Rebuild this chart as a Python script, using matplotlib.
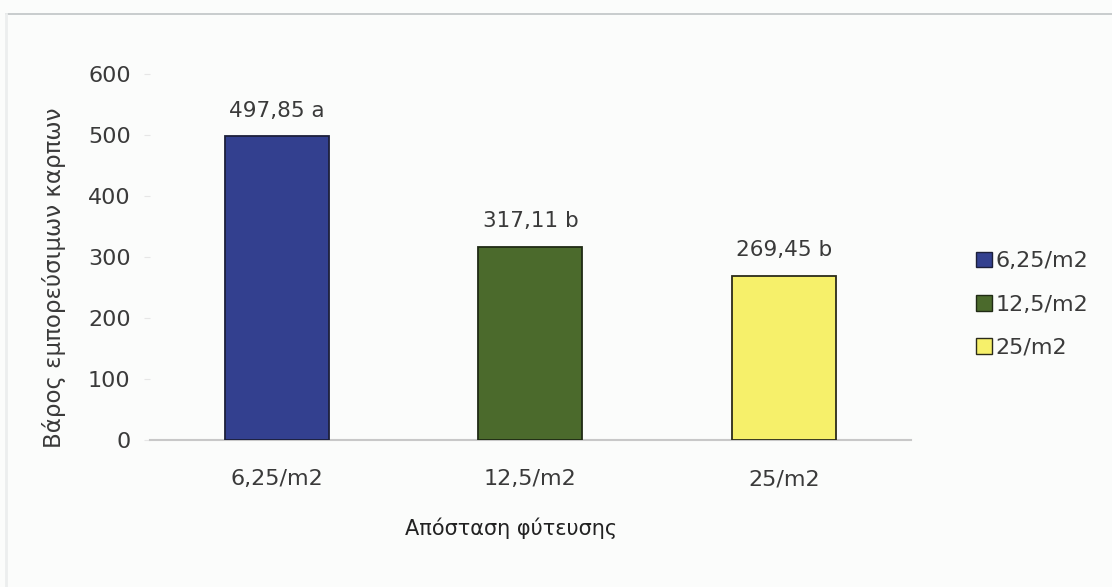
import matplotlib
matplotlib.use("Agg")
import matplotlib.pyplot as plt
from matplotlib.patches import Patch
from matplotlib.lines import Line2D

# Data
categories = ["6,25/m2", "12,5/m2", "25/m2"]
values = [497.85, 317.11, 269.45]
letters = ["a", "b", "b"]
value_labels = ["497,85", "317,11", "269,45"]
colors = ["#33408f", "#4b6a2c", "#f6f06a"]
edge_colors = ["#1c1f3a", "#1f2a14", "#2b2b1a"]
yticks = [0, 100, 200, 300, 400, 500, 600]

bg = "#fbfcfb"
text_col = "#3a3a3a"
plt.rcParams["font.family"] = ["DejaVu Sans"]

fig = plt.figure(figsize=(11.12, 5.87), dpi=100, facecolor=bg)
ax = fig.add_axes([0.135, 0.2504, 0.684, 0.6236], facecolor=bg)

x = list(range(len(categories)))
ax.bar(x, values, width=0.41, color=colors, edgecolor=edge_colors,
       linewidth=1.3, zorder=3)

for xi, v, lab, let in zip(x, values, value_labels, letters):
    ax.annotate(f"{lab} {let}", (xi, v), xytext=(0, 11), textcoords="offset points",
                ha="center", va="bottom", fontsize=15.5, color=text_col)

ax.set_xlim(-0.5, 2.5)
ax.set_ylim(0, 600)
ax.set_yticks(yticks)
ax.set_xticks(x)
ax.set_xticklabels(categories)
ax.tick_params(axis="x", length=0, pad=21, labelsize=16, labelcolor=text_col)
ax.tick_params(axis="y", length=4, width=0.8, color="#e6e6e6", pad=10,
               labelsize=16, labelcolor=text_col)

for side in ["top", "right", "left"]:
    ax.spines[side].set_visible(False)
ax.spines["bottom"].set_color("#c8c8c8")
ax.spines["bottom"].set_linewidth(1.5)

ax.set_ylabel("Βάρος εμπορεύσιμων καρπων", fontsize=16.5, color=text_col)
ax.yaxis.set_label_coords(-0.110, 0.443)
ax.set_xlabel("Απόσταση φύτευσης", fontsize=15, color="#222222")
ax.xaxis.set_label_coords(0.474, -0.212)

handles = [Patch(facecolor=c, edgecolor=e, linewidth=1.0) for c, e in zip(colors, edge_colors)]
fig.legend(handles, categories, loc="center left", bbox_to_anchor=(0.86, 0.481),
           frameon=False, fontsize=16, handlelength=0.7, handleheight=0.7,
           handletextpad=0.15, labelspacing=1.05, labelcolor=text_col)

# Frame lines of the chart area
fig.add_artist(Line2D([0.005, 1.0], [1 - 14 / 587, 1 - 14 / 587], transform=fig.transFigure,
                      color="#c0c4c6", linewidth=1.2))
fig.add_artist(Line2D([6 / 1112, 6 / 1112], [0, 1 - 14 / 587], transform=fig.transFigure,
                      color="#eceeee", linewidth=2))

fig.savefig("out.png", dpi=100, facecolor=bg)
